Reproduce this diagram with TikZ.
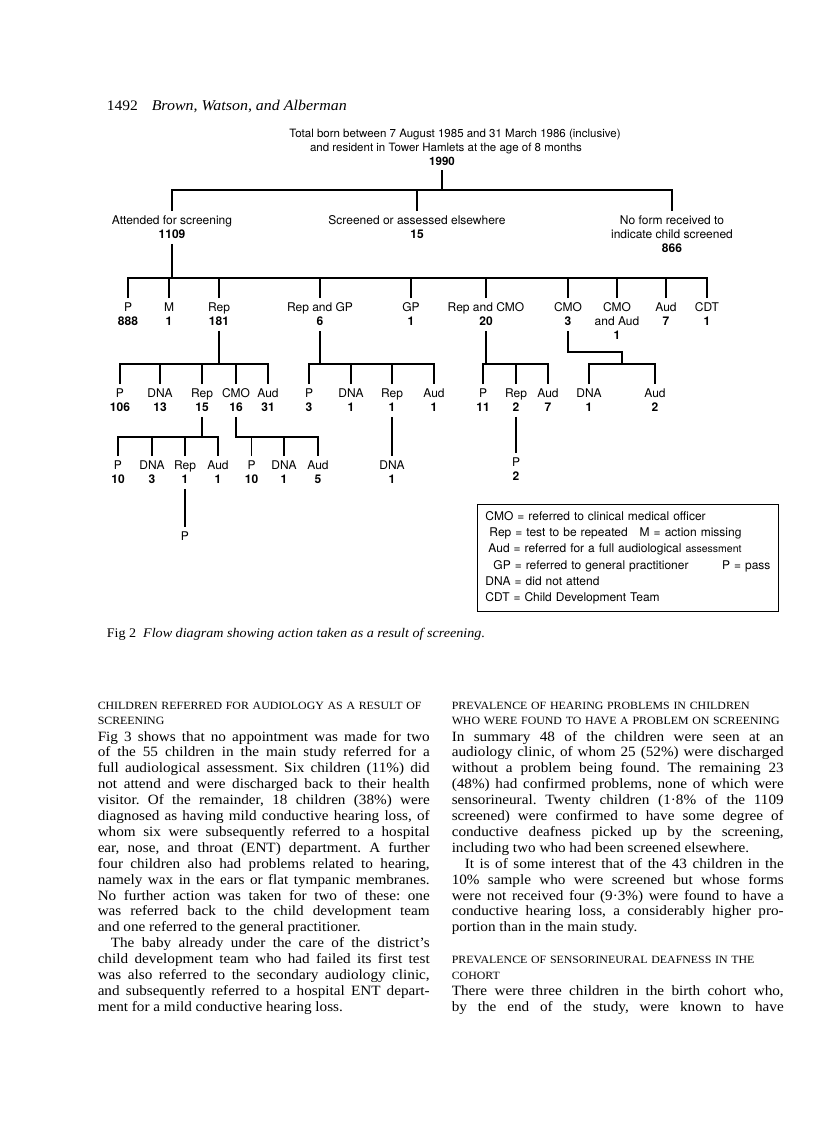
\documentclass[tikz,border=0pt]{standalone}
\usepackage{fontspec}
\setmainfont{Liberation Serif}[FakeStretch = 1.07]
\newfontfamily\helv{TeX Gyre Heros}
\frenchspacing
\tikzset{
  lbl/.style = {font = \helv\fontsize{12}{14}\selectfont, align = center,
                inner sep = 0pt, outer ysep = 5pt, anchor = north},
  ttl/.style = {font = \helv\fontsize{11.5}{14}\selectfont, inner sep = 0pt,
                outer ysep = 5pt, anchor = base},
  colhead/.style = {font = \fontsize{11.1}{15.9}\selectfont, text width = 332pt,
                    align = left, inner sep = 0pt, anchor = base west},
  coltext/.style = {font = \fontsize{14.2}{15.9}\selectfont, text width = 332pt,
                    align = justify, inner sep = 0pt, anchor = base west},
  legendbox/.style = {draw, line width = .9pt, font = \helv\fontsize{12}{16.2}\selectfont,
                      text width = 285pt, align = left, inner xsep = 8pt,
                      inner ysep = 7pt, anchor = north west}
}
\begin{document}
\begin{tikzpicture}[x = 1pt, y = -1pt, line width = 1.5pt]
      \fill [white] (0,0) rectangle (816,1122);
      \useasboundingbox (0,0) rectangle (816,1122);
      \node [anchor = base west, inner sep = 0pt, font = \fontsize{14.5}{17}\selectfont]
        (pagenum) at (106,110) {1492};
      \node [anchor = base west, inner sep = 0pt, font = \fontsize{14.9}{17}\selectfont\itshape]
        (authors) at (151,110) {Brown, Watson, and Alberman};
      \node [ttl] (total) at (455,137) {Total born between 7 August 1985 and 31 March 1986 (inclusive)};
      \node [ttl] (resident) at (446,151) {and resident in Tower Hamlets at the age of 8 months};
      \node [ttl, font = \helv\bfseries\fontsize{11.5}{14}\selectfont] (n1990) at (442,165) {1990};
      \coordinate (bus1) at (0,190);
      \coordinate (bus2) at (0,278);
      \coordinate (bus3) at (0,364);
      \coordinate (bus4) at (0,437);
      \node [lbl] (attended) at (172,211) {Attended for screening\\\textbf{1109}};
      \node [lbl] (screened) at (417,211) {Screened or assessed elsewhere\\\textbf{15}};
      \node [lbl] (noform) at (672,211) {No form received to\\indicate child screened\\\textbf{866}};
      \node [lbl] (p888) at (128,298) {P\\\textbf{888}};
      \node [lbl] (m1) at (169,298) {M\\\textbf{1}};
      \node [lbl] (rep181) at (219,298) {Rep\\\textbf{181}};
      \node [lbl] (repgp6) at (320,298) {Rep and GP\\\textbf{6}};
      \node [lbl] (gp1) at (411,298) {GP\\\textbf{1}};
      \node [lbl] (repcmo20) at (486,298) {Rep and CMO\\\textbf{20}};
      \node [lbl] (cmo3) at (568,298) {CMO\\\textbf{3}};
      \node [lbl] (cmoaud1) at (617,298) {CMO\\and Aud\\\textbf{1}};
      \node [lbl] (aud7) at (666,298) {Aud\\\textbf{7}};
      \node [lbl] (cdt1) at (707,298) {CDT\\\textbf{1}};
      \node [lbl] (p106) at (120,384) {P\\\textbf{106}};
      \node [lbl] (dna13) at (160,384) {DNA\\\textbf{13}};
      \node [lbl] (rep15) at (202,384) {Rep\\\textbf{15}};
      \node [lbl] (cmo16) at (236,384) {CMO\\\textbf{16}};
      \node [lbl] (aud31) at (268,384) {Aud\\\textbf{31}};
      \node [lbl] (p3) at (309,384) {P\\\textbf{3}};
      \node [lbl] (dna1) at (351,384) {DNA\\\textbf{1}};
      \node [lbl] (rep1) at (392,384) {Rep\\\textbf{1}};
      \node [lbl] (aud1) at (434,384) {Aud\\\textbf{1}};
      \node [lbl] (p11) at (483,384) {P\\\textbf{11}};
      \node [lbl] (rep2) at (516,384) {Rep\\\textbf{2}};
      \node [lbl] (aud7b) at (548,384) {Aud\\\textbf{7}};
      \node [lbl] (dna1b) at (589,384) {DNA\\\textbf{1}};
      \node [lbl] (aud2) at (655,384) {Aud\\\textbf{2}};
      \node [lbl] (p10) at (118,456) {P\\\textbf{10}};
      \node [lbl] (dna3) at (152,456) {DNA\\\textbf{3}};
      \node [lbl] (rep1b) at (185,456) {Rep\\\textbf{1}};
      \node [lbl] (aud1b) at (218,456) {Aud\\\textbf{1}};
      \node [lbl] (p10b) at (251.5,456) {P\\\textbf{10}};
      \node [lbl] (dna1c) at (284,456) {DNA\\\textbf{1}};
      \node [lbl] (aud5) at (318,456) {Aud\\\textbf{5}};
      \node [lbl] (dna1d) at (392,456) {DNA\\\textbf{1}};
      \node [lbl] (p2) at (516,453) {P\\\textbf{2}};
      \node [lbl] (pend) at (185,527) {P};
      \coordinate (cmoknee) at (622,352);
      \draw (n1990.south) -- (n1990.south |- bus1);
      \draw (attended.north) |- (noform.north |- bus1) -- (noform.north);
      \draw (screened.north) -- (screened.north |- bus1);
      \draw (attended.south) -- (attended.south |- bus2);
      \draw (p888.north) |- (cdt1.north |- bus2) -- (cdt1.north);
      \foreach \n in {m1, rep181, repgp6, gp1, repcmo20, cmo3, cmoaud1, aud7}
        \draw (\n.north) -- (\n.north |- bus2);
      \draw (rep181.south) -- (rep181.south |- bus3);
      \draw (p106.north) |- (aud31.north |- bus3) -- (aud31.north);
      \foreach \n in {dna13, rep15, cmo16}
        \draw (\n.north) -- (\n.north |- bus3);
      \draw (repgp6.south) -- (repgp6.south |- bus3);
      \draw (p3.north) |- (aud1.north |- bus3) -- (aud1.north);
      \foreach \n in {dna1, rep1}
        \draw (\n.north) -- (\n.north |- bus3);
      \draw (repcmo20.south) -- (repcmo20.south |- bus3);
      \draw (p11.north) |- (aud7b.north |- bus3) -- (aud7b.north);
      \draw (rep2.north) -- (rep2.north |- bus3);
      \draw (cmo3.south) |- (cmoknee) -- (cmoknee |- bus3);
      \draw (dna1b.north) |- (aud2.north |- bus3) -- (aud2.north);
      \draw (rep15.south) -- (rep15.south |- bus4);
      \draw (p10.north) |- (aud1b.north |- bus4) -- (aud1b.north);
      \foreach \n in {dna3, rep1b}
        \draw (\n.north) -- (\n.north |- bus4);
      \draw (cmo16.south) |- (aud5.north |- bus4) -- (aud5.north);
      \foreach \n in {p10b, dna1c}
        \draw (\n.north) -- (\n.north |- bus4);
      \draw (rep1.south) -- (dna1d.north);
      \draw (rep2.south) -- (p2.north);
      \draw (rep1b.south) -- (pend.north);
      \node [legendbox] (legend) at (477,504) {CMO = referred to clinical medical officer\\
        \hspace*{4pt}Rep = test to be repeated\hspace{12pt}M = action missing\\
        \hspace*{3pt}Aud = referred for a full audiological {\fontsize{10.5}{12}\selectfont assessment}\\
        \hspace*{8pt}GP = referred to general practitioner\hfill P = pass\\
        DNA = did not attend\\
        CDT = Child Development Team};
      \node [anchor = base west, inner sep = 0pt, font = \fontsize{13.2}{16}\selectfont]
        (caption) at (106,637) {Fig 2\hspace{7pt}\textit{Flow diagram showing action taken as a result of screening.}};
      \node [colhead] (lefthead) at (97,709) {CHILDREN REFERRED FOR AUDIOLOGY AS A RESULT OF\\SCREENING};
      \node [coltext] (lefttext) at (97,741) {Fig 3 shows that no appointment was made for two\linebreak
        of the 55 children in the main study referred for a\linebreak
        full audiological assessment. Six children (11\%) did\linebreak
        not attend and were discharged back to their health\linebreak
        visitor. Of the remainder, 18 children (38\%) were\linebreak
        diagnosed as having mild conductive hearing loss, of\linebreak
        whom six were subsequently referred to a hospital\linebreak
        ear, nose, and throat (ENT) department. A further\linebreak
        four children also had problems related to hearing,\linebreak
        namely wax in the ears or flat tympanic membranes.\linebreak
        No further action was taken for two of these: one\linebreak
        was referred back to the child development team\linebreak
        and one referred to the general practitioner.\par
        \hspace*{13pt}The baby already under the care of the district's\linebreak
        child development team who had failed its first test\linebreak
        was also referred to the secondary audiology clinic,\linebreak
        and subsequently referred to a hospital ENT depart-\linebreak
        ment for a mild conductive hearing loss.};
      \node [colhead] (righthead) at (451,709) {PREVALENCE OF HEARING PROBLEMS IN CHILDREN\\WHO WERE FOUND TO HAVE A PROBLEM ON SCREENING};
      \node [coltext] (righttext) at (451,741) {In summary 48 of the children were seen at an\linebreak
        audiology clinic, of whom 25 (52\%) were discharged\linebreak
        without a problem being found. The remaining 23\linebreak
        (48\%) had confirmed problems, none of which were\linebreak
        sensorineural. Twenty children (1·8\% of the 1109\linebreak
        screened) were confirmed to have some degree of\linebreak
        conductive deafness picked up by the screening,\linebreak
        including two who had been screened elsewhere.\par
        \hspace*{13pt}It is of some interest that of the 43 children in the\linebreak
        10\% sample who were screened but whose forms\linebreak
        were not received four (9·3\%) were found to have a\linebreak
        conductive hearing loss, a considerably higher pro-\linebreak
        portion than in the main study.};
      \node [colhead] (cohorthead) at (451,963.6) {PREVALENCE OF SENSORINEURAL DEAFNESS IN THE\\COHORT};
      \node [coltext] (cohorttext) at (451,995.4) {There were three children in the birth cohort who,\linebreak
        by the end of the study, were known to have\parfillskip = 0pt\par};
\end{tikzpicture}
\end{document}
